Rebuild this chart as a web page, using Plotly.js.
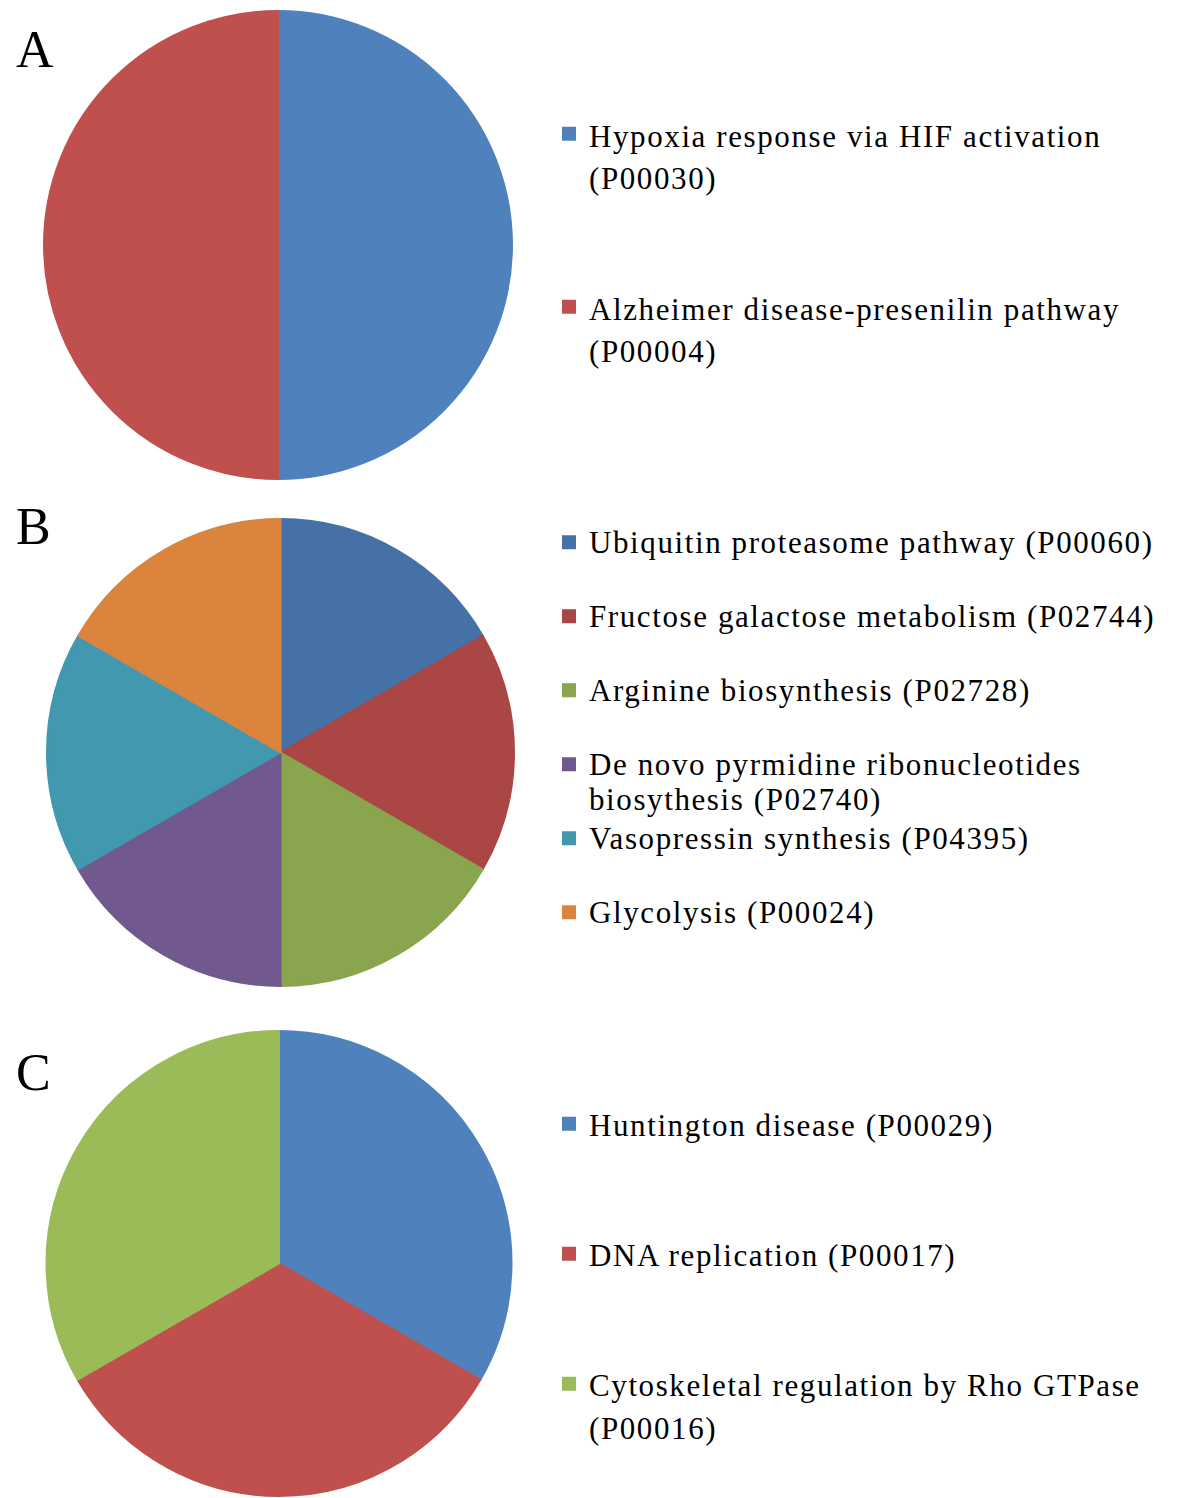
<!DOCTYPE html>
<html>
<head>
<meta charset="utf-8">
<script src="https://cdn.plot.ly/plotly-3.0.1.min.js"></script>
<style>html,body{margin:0;padding:0;background:#fff;}#chart{width:1178px;height:1498px;}</style>
</head>
<body>
<div id="chart"></div>
<script>
// Panel A
const labelsA = ["Hypoxia response via HIF activation<br>(P00030)", "Alzheimer disease-presenilin pathway<br>(P00004)"];
const valuesA = [1, 1];
const colorsA = ["#4F81BD", "#C0504D"];

// Panel B
const labelsB = ["Ubiquitin proteasome pathway (P00060)", "Fructose galactose metabolism (P02744)", "Arginine biosynthesis (P02728)", "De novo pyrmidine ribonucleotides<br>biosythesis (P02740)", "Vasopressin synthesis (P04395)", "Glycolysis (P00024)"];
const valuesB = [1, 1, 1, 1, 1, 1];
const colorsB = ["#4571A6", "#AA4643", "#89A54E", "#71588F", "#4198AF", "#DB843D"];

// Panel C
const labelsC = ["Huntington disease (P00029)", "DNA replication (P00017)", "Cytoskeletal regulation by Rho GTPase<br>(P00016)"];
const valuesC = [1, 1, 1];
const colorsC = ["#4F81BD", "#C0504D", "#9BBB59"];

const panelLetters = ["A", "B", "C"];

const W = 1178, H = 1498;
const FONT = "Liberation Serif, Times New Roman, serif";
const SPAN = '<span style="font-size:31px;letter-spacing:1.6px">';

// pad each label (except the last) to a fixed number of lines so legend entries are evenly spaced
function padLabels(labels, nLines) {
  return labels.map((l, idx) => {
    const parts = l.split("<br>");
    let s = parts.map(p => SPAN + p + '</span>').join('<br>');
    if (idx < labels.length - 1) {
      for (let i = parts.length; i < nLines; i++) s += "<br>&nbsp;";
    }
    return s;
  });
}

function pieTrace(labels, values, colors, dom, legendId, nLines) {
  return {
    type: "pie",
    labels: padLabels(labels, nLines),
    values: values,
    marker: {colors: colors, line: {width: 2, color: colors}},
    sort: false,
    direction: "clockwise",
    rotation: 0,
    textinfo: "none",
    hoverinfo: "label+value",
    domain: dom,
    legend: legendId,
    showlegend: true
  };
}

const traces = [
  pieTrace(labelsA, valuesA, colorsA, {x: [44 / W, 512 / W], y: [1 - 479 / H, 1 - 11 / H]}, "legend", 4),
  pieTrace(labelsB, valuesB, colorsB, {x: [47 / W, 514 / W], y: [1 - 986 / H, 1 - 519 / H]}, "legend2", 2),
  pieTrace(labelsC, valuesC, colorsC, {x: [44 / W, 514 / W], y: [1 - 1496 / H, 1 - 1031 / H]}, "legend3", 3)
];

function legendObj(yTop, fs) {
  return {
    x: 549 / W, xanchor: "left",
    y: 1 - yTop / H, yanchor: "top",
    xref: "paper", yref: "paper",
    font: {family: FONT, size: fs, color: "#000"},
    bgcolor: "rgba(0,0,0,0)",
    borderwidth: 0,
    valign: "top",
    traceorder: "normal"
  };
}

const letterY = [50, 526, 1072];
const annotations = panelLetters.map((t, i) => ({
  text: t, x: 14 / W, y: 1 - letterY[i] / H, xref: "paper", yref: "paper",
  xanchor: "left", yanchor: "middle", showarrow: false,
  font: {family: FONT, size: 52, color: "#000"}
}));

const layout = {
  width: W, height: H,
  margin: {l: 0, r: 0, t: 0, b: 0},
  paper_bgcolor: "#fff",
  plot_bgcolor: "#fff",
  showlegend: true,
  legend: legendObj(106, (173 - 3) / 4 / 1.3),
  legend2: legendObj(518, (74 - 3) / 2 / 1.3),
  legend3: legendObj(1096, (130 - 3) / 3 / 1.3),
  annotations: annotations
};

Plotly.newPlot("chart", traces, layout, {displayModeBar: false, staticPlot: true});
</script>
</body>
</html>
